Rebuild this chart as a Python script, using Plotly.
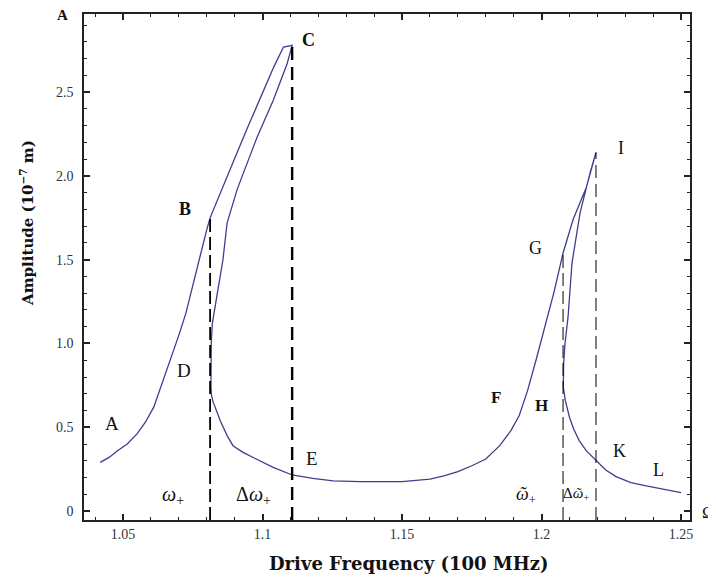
import plotly.graph_objects as go

# Response curve (drive frequency in 100 MHz, amplitude in 1e-7 m), traced along the path
freq = [1.0418, 1.0450, 1.0480, 1.0515, 1.0550, 1.0580, 1.0610, 1.0640, 1.0670, 1.0700,
        1.0725, 1.0750, 1.0775, 1.0800, 1.0812,
        1.0848, 1.0894, 1.0944, 1.0990, 1.1040, 1.1075, 1.1106,
        1.1088, 1.1038, 1.0980, 1.0909, 1.0873, 1.0858, 1.0841, 1.0830, 1.0820, 1.0816,
        1.0815, 1.0815, 1.0817, 1.0823, 1.0837, 1.0848, 1.0873, 1.0894, 1.0930, 1.0966,
        1.1002, 1.1038, 1.1106, 1.1180, 1.1253, 1.1350, 1.1500,
        1.1600, 1.1650, 1.1700, 1.1750, 1.1800, 1.1850, 1.1890, 1.1920, 1.1950, 1.1980,
        1.2016, 1.2045, 1.2077, 1.2113, 1.2160, 1.2195,
        1.2174, 1.2138, 1.2109, 1.2095, 1.2084, 1.2079, 1.2078, 1.2085, 1.2100, 1.2115,
        1.2135, 1.2160, 1.2195, 1.2230, 1.2267, 1.2320, 1.2375, 1.2440, 1.2500]
amp = [0.29, 0.32, 0.36, 0.40, 0.46, 0.53, 0.62, 0.76, 0.90, 1.05,
       1.18, 1.35, 1.52, 1.68, 1.75,
       1.90, 2.08, 2.28, 2.46, 2.65, 2.77, 2.78,
       2.67, 2.45, 2.23, 1.92, 1.72, 1.50, 1.33, 1.22, 1.12, 1.00,
       0.85, 0.74, 0.69, 0.65, 0.59, 0.54, 0.45, 0.39, 0.35, 0.32,
       0.29, 0.26, 0.215, 0.195, 0.18, 0.175, 0.175,
       0.19, 0.21, 0.235, 0.27, 0.31, 0.39, 0.48, 0.57, 0.72, 0.90,
       1.12, 1.31, 1.54, 1.74, 1.93, 2.14,
       2.02, 1.78, 1.48, 1.16, 1.00, 0.88, 0.74, 0.66, 0.56, 0.49,
       0.42, 0.36, 0.30, 0.245, 0.205, 0.17, 0.15, 0.13, 0.11]

# Vertical dashed markers: frequency and top amplitude
mark_freq = [1.0812, 1.1106, 1.2077, 1.2195]
mark_top = [1.75, 2.78, 1.55, 2.14]
mark_width = [1.8, 2.4, 1.0, 1.0]
mark_dash = ["13px,5px", "13px,7px", "13px,5px", "13px,6px"]

x_range = [1.036, 1.2532]
y_range = [-0.0537, 2.967]

x_tickvals = [1.05, 1.1, 1.15, 1.2, 1.25]
x_ticktext = ["1.05", "1.1", "1.15", "1.2", "1.25"]
y_tickvals = [0, 0.5, 1.0, 1.5, 2.0, 2.5]
y_ticktext = ["0", "0.5", "1.0", "1.5", "2.0", "2.5"]

# Point labels (text, frequency, amplitude, bold, size)
labels = [
    ("C", 1.1163, 2.81, True, 18),
    ("B", 1.0722, 1.80, True, 18),
    ("D", 1.0719, 0.84, False, 19),
    ("A", 1.0461, 0.525, False, 19),
    ("E", 1.1177, 0.316, False, 19),
    ("F", 1.1837, 0.675, True, 17),
    ("H", 1.1998, 0.627, True, 17),
    ("G", 1.1980, 1.57, False, 18),
    ("I", 1.2285, 2.17, False, 18),
    ("K", 1.2278, 0.358, False, 18),
    ("L", 1.2418, 0.245, False, 18),
]
omega_labels = [
    ("<i>ω</i><sub>+</sub>", 1.0679, 0.095, 20),
    ("Δ<i>ω</i><sub>+</sub>", 1.0966, 0.095, 20),
    ("<i>ῶ</i><sub>+</sub>", 1.1944, 0.095, 18),
    ("Δ<i>ῶ</i><sub>+</sub>", 1.2124, 0.100, 15),
]

FONT = "Liberation Serif"
TITLE_FONT = "DejaVu Serif"
curve_color = "#3e3e8e"

fig = go.Figure()
fig.add_trace(go.Scatter(x=freq, y=amp, mode="lines",
                         line=dict(color=curve_color, width=1.3),
                         showlegend=False, hoverinfo="skip"))
for f, top, w, d in zip(mark_freq, mark_top, mark_width, mark_dash):
    fig.add_trace(go.Scatter(x=[f, f], y=[y_range[0], top], mode="lines",
                             line=dict(color="black", width=w, dash=d),
                             showlegend=False, hoverinfo="skip"))

for t, fx, ay, bold, sz in labels:
    fig.add_annotation(x=fx, y=ay, text=(f"<b>{t}</b>" if bold else t), showarrow=False,
                       font=dict(family=FONT, size=sz, color="#111"))
for t, fx, ay, sz in omega_labels:
    fig.add_annotation(x=fx, y=ay, text=t, showarrow=False,
                       font=dict(family=FONT, size=sz, color="#111"))

# axis letters (outside the plot, so in paper coordinates)
fig.add_annotation(x=-0.0363, y=0.998, xref="paper", yref="paper", text="<b>A</b>",
                   xanchor="center", yanchor="middle", showarrow=False,
                   font=dict(family=FONT, size=15, color="#111"))
fig.add_annotation(x=1.031, y=0.014, xref="paper", yref="paper", text="Ω",
                   xanchor="center", yanchor="middle", showarrow=False,
                   font=dict(family=FONT, size=17, color="#111"))

# axis titles (placed off-centre as in the original)
fig.add_annotation(x=-0.094, xref="paper", y=1.72, text="<b>Amplitude (10<sup>−7</sup> m)</b>",
                   textangle=-90, xanchor="center", yanchor="middle", showarrow=False,
                   font=dict(family=TITLE_FONT, size=15, color="#111"))
fig.add_annotation(x=0.536, xref="paper", y=-0.085, yref="paper",
                   xanchor="center", yanchor="middle",
                   text="<b>Drive Frequency (100 MHz)</b>", showarrow=False,
                   font=dict(family=TITLE_FONT, size=18, color="#111"))

axis_common = dict(showline=True, linecolor="#222", linewidth=1.5, mirror="allticks",
                   ticks="inside", ticklen=6, tickwidth=1.5, tickcolor="#222",
                   showgrid=False, zeroline=False, automargin=False,
                   tickfont=dict(family=FONT, size=14, color="#333"))

fig.update_xaxes(range=x_range, tickvals=x_tickvals, ticktext=x_ticktext,
                 minor=dict(dtick=0.01, tick0=1.0, ticks="inside", ticklen=3, tickwidth=1.2,
                            tickcolor="#222", showgrid=False),
                 **axis_common)
fig.update_yaxes(range=y_range, tickvals=y_tickvals, ticktext=y_ticktext,
                 minor=dict(dtick=0.1, tick0=0, ticks="inside", ticklen=3, tickwidth=1.2,
                            tickcolor="#222", showgrid=False),
                 ticklabelstandoff=6,
                 **axis_common)

# the page body adds an 8px offset, so margins are reduced accordingly
fig.update_layout(width=716, height=578, plot_bgcolor="white", paper_bgcolor="white",
                  margin=dict(l=76, r=34, t=6, b=66), showlegend=False)

fig.write_html("out.html")
